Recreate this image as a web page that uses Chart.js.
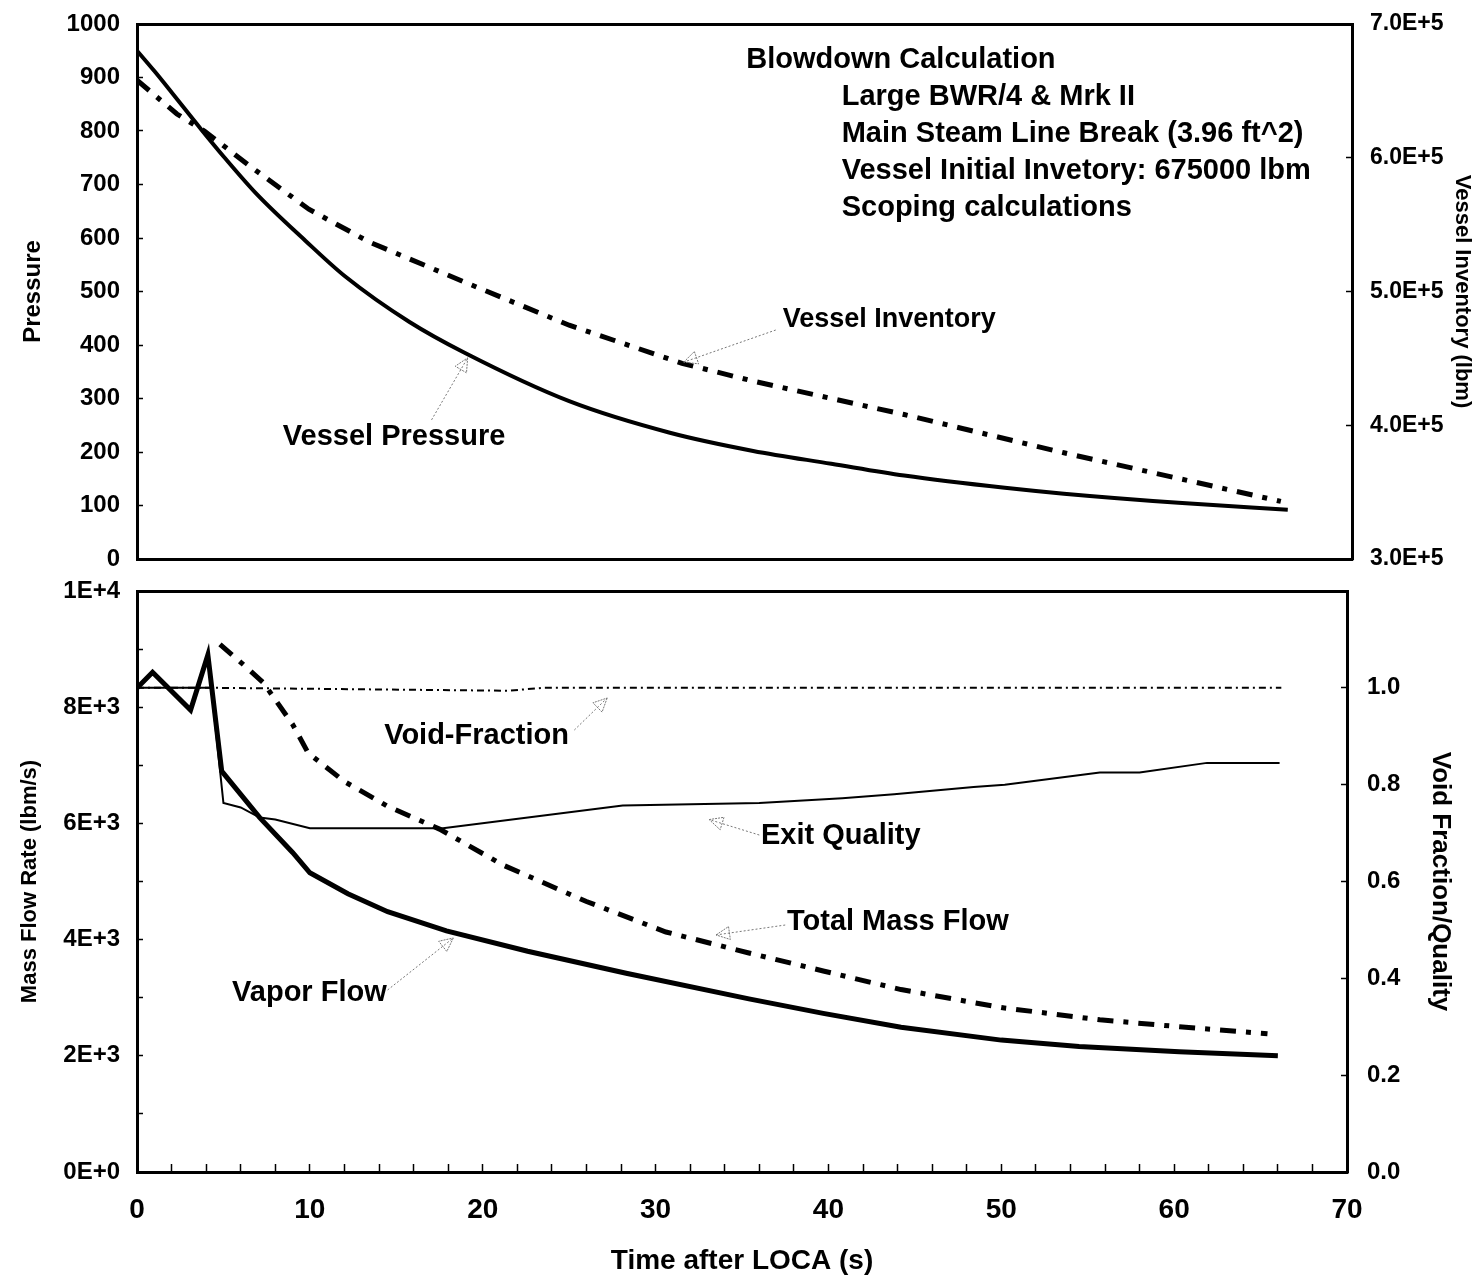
<!DOCTYPE html>
<html>
<head>
<meta charset="utf-8">
<title>Blowdown Calculation</title>
<script src="https://cdn.jsdelivr.net/npm/chart.js@4.4.1/dist/chart.umd.min.js"></script>
<style>
  html, body { margin: 0; padding: 0; background: #fff; }
  #wrap { position: relative; width: 1478px; height: 1280px; }
  canvas { position: absolute; left: 0; }
  #top-chart { top: 0; }
  #bottom-chart { top: 576px; }
</style>
</head>
<body>
<div id="wrap">
  <canvas id="top-chart" width="1478" height="576"></canvas>
  <canvas id="bottom-chart" width="1478" height="704"></canvas>
</div>
<script>
// ---------------------------------------------------------------------------------------
// Werte

// oben: Druck / Inventar
var time_pressure = [0, 1, 2, 3.7, 5, 6.9, 9.7, 12, 15.7, 18.9, 24.9, 30.7, 35.5, 40, 44.2, 50, 53.4, 60, 66.3];
var vessel_pressure = [950, 912, 872, 803, 752, 682, 595, 528, 443, 385, 295, 236, 202, 178, 156, 133, 122, 105, 92];

var time_inventory = [0, 2.3, 3.9, 6.5, 9.9, 13.4, 19.1, 24.9, 31.4, 35.5, 44.2, 53.4, 65.9];
var vessel_inventory = [658000, 632700, 619800, 593800, 561500, 536900, 505800, 474800, 446300, 433000, 408000, 379400, 343100];

// unten: Massenstrom / Void / Quality
var time_vapor = [0, 0.9, 3.1, 4.1, 4.9, 7.1, 9.0, 10.0, 12.2, 14.5, 17.9, 22.6, 28.3, 35.4, 39.7, 44.2, 50.0, 54.5, 60.3, 66.0];
var vapor_flow = [8330, 8600, 7950, 8900, 6900, 6100, 5500, 5150, 4790, 4480, 4150, 3800, 3420, 2980, 2730, 2490, 2270, 2160, 2070, 2000];

var time_total = [4.8, 6.2, 7.3, 9.0, 9.9, 12.0, 14.5, 17.5, 21.2, 26.0, 30.6, 35.4, 39.7, 44.2, 50.0, 55.7, 60.3, 65.4];
var total_flow = [9082, 8721, 8426, 7705, 7213, 6721, 6295, 5902, 5279, 4656, 4131, 3770, 3460, 3140, 2830, 2620, 2500, 2379];

var time_quality = [0, 4.3, 5.0, 6.0, 7.1, 8.0, 10.0, 17.7, 28.1, 36.0, 40.8, 43.8, 48.4, 50.2, 55.7, 58.0, 61.9, 66.1];
var exit_quality = [1.0, 1.0, 0.762, 0.753, 0.732, 0.728, 0.71, 0.71, 0.757, 0.762, 0.772, 0.78, 0.795, 0.80, 0.825, 0.825, 0.845, 0.845];

var time_void = [0, 4.5, 21.5, 23.5, 66.2];
var void_fraction = [1.0, 1.0, 0.994, 1.0, 1.0];

var info_text = ["Blowdown Calculation", "Large BWR/4 & Mrk II", "Main Steam Line Break (3.96 ft^2)",
  "Vessel Initial Invetory: 675000 lbm", "Scoping calculations"];

// ---------------------------------------------------------------------------------------
// Beschriftungen (Position in Achsenwerten)

var top_notes = [
  {text: "Vessel Inventory", x: 37.2, y: 447, tail: [36.8, 428], tip: [31.5, 368], size: 27},
  {text: "Vessel Pressure", x: 8.4, y: 228, tail: [16.97, 260], tip: [19.05, 376]}
];
var info_pos = [[35.1, 933], [40.6, 864], [40.6, 794], [40.6, 725], [40.6, 656]];

var bottom_notes = [
  {text: "Void-Fraction", x: 14.3, y: 7504, tail: [25.3, 7607], tip: [27.2, 8158]},
  {text: "Exit Quality", x: 36.1, y: 5783, tail: [36.0, 5800], tip: [33.1, 6066]},
  {text: "Total Mass Flow", x: 37.6, y: 4303, tail: [37.5, 4251], tip: [33.5, 4080]},
  {text: "Vapor Flow", x: 5.5, y: 3081, tail: [14.5, 3133], tip: [18.3, 4028]}
];

var FONT = '"Liberation Sans", Arial, sans-serif';

function pairs(xs, ys) {
  return xs.map(function(t, i){ return {x: t, y: ys[i]}; });
}

function fmtExp(v) {
  if (v === 0) return "0E+0";
  var e = Math.floor(Math.log10(v) + 1e-9);
  return Math.round(v / Math.pow(10, e)) + "E+" + e;
}

// feste Achsenbreite, ohne Label-Überstand im Layout
function fixWidth(w) {
  return function(axis){ axis.width = w; axis.paddingTop = 0; axis.paddingBottom = 0; };
}
function fixHeight(h) {
  return function(axis){ axis.height = h; axis.paddingLeft = 0; axis.paddingRight = 0; };
}

function drawNotes(chart, notes, yId) {
  var ctx = chart.ctx, xs = chart.scales.x, ys = chart.scales[yId];
  ctx.save();
  notes.forEach(function(n){
    var x1 = xs.getPixelForValue(n.tail[0]), y1 = ys.getPixelForValue(n.tail[1]);
    var x2 = xs.getPixelForValue(n.tip[0]), y2 = ys.getPixelForValue(n.tip[1]);
    ctx.strokeStyle = "#777";
    ctx.lineWidth = 1;
    ctx.setLineDash([2, 2]);
    ctx.beginPath(); ctx.moveTo(x1, y1); ctx.lineTo(x2, y2); ctx.stroke();
    var a = Math.atan2(y2 - y1, x2 - x1), L = 15, w = 0.45;
    ctx.setLineDash([2, 1]);
    ctx.beginPath();
    ctx.moveTo(x2, y2);
    ctx.lineTo(x2 - L * Math.cos(a - w), y2 - L * Math.sin(a - w));
    ctx.lineTo(x2 - L * Math.cos(a + w), y2 - L * Math.sin(a + w));
    ctx.closePath();
    ctx.stroke();
    ctx.setLineDash([]);
    ctx.fillStyle = "#000";
    ctx.font = "bold " + (n.size || 29) + "px " + FONT;
    ctx.textAlign = "left";
    ctx.textBaseline = "middle";
    ctx.fillText(n.text, xs.getPixelForValue(n.x), ys.getPixelForValue(n.y));
  });
  ctx.restore();
}

var hiddenTop = {
  position: "top", display: true, min: 0, max: 70,
  ticks: {display: false},
  grid: {drawOnChartArea: false, drawTicks: false},
  border: {color: "#000", width: 3},
  afterFit: fixHeight(0)
};

// ---------------------------------------------------------------------------------------
// oberes Diagramm

new Chart(document.getElementById("top-chart"), {
  type: "line",
  data: {
    datasets: [
      {
        label: "Vessel Pressure",
        data: pairs(time_pressure, vessel_pressure),
        yAxisID: "y",
        borderColor: "#000",
        borderWidth: 4,
        pointRadius: 0,
        cubicInterpolationMode: "monotone"
      },
      {
        label: "Vessel Inventory",
        data: pairs(time_inventory, vessel_inventory),
        yAxisID: "y2",
        borderColor: "#000",
        borderWidth: 5,
        borderDash: [16, 10, 5, 10],
        pointRadius: 0,
        tension: 0
      }
    ]
  },
  options: {
    responsive: false,
    animation: false,
    layout: {padding: {top: 24, left: 0, right: 0, bottom: 0}},
    scales: {
      x: {
        type: "linear", position: "bottom", min: 0, max: 70,
        ticks: {display: false},
        grid: {drawOnChartArea: false, drawTicks: false},
        border: {color: "#000", width: 3},
        afterFit: fixHeight(576 - 559)
      },
      xTop: hiddenTop,
      y: {
        position: "left", min: 0, max: 1000,
        ticks: {
          stepSize: 50, padding: 23, color: "#000",
          font: {family: FONT, size: 24, weight: "bold"},
          callback: function(v){ return v % 100 === 0 ? String(v) : ""; }
        },
        grid: {drawOnChartArea: false, drawTicks: true, tickLength: -6, tickColor: "#000", tickWidth: 1.5},
        border: {color: "#000", width: 3},
        title: {display: true, text: "Pressure", color: "#000",
          font: {family: FONT, size: 24, weight: "bold"}, padding: {top: 19, bottom: 0}},
        afterFit: fixWidth(137)
      },
      y2: {
        position: "right", min: 300000, max: 700000,
        ticks: {
          stepSize: 100000, padding: 24, color: "#000",
          font: {family: FONT, size: 23, weight: "bold"},
          callback: function(v){ return (v / 100000).toFixed(1) + "E+5"; }
        },
        grid: {drawOnChartArea: false, drawTicks: true, tickLength: -6, tickColor: "#000", tickWidth: 1.5},
        border: {color: "#000", width: 3},
        title: {display: true, text: "Vessel Inventory (lbm)", color: "#000",
          font: {family: FONT, size: 22, weight: "bold"}, padding: {top: 3, bottom: 0}},
        afterFit: fixWidth(1478 - 1352)
      }
    },
    plugins: {
      legend: {display: false},
      tooltip: {enabled: false}
    }
  },
  plugins: [{
    id: "topNotes",
    afterDraw: function(chart){
      drawNotes(chart, top_notes, "y");
      var ctx = chart.ctx, xs = chart.scales.x, ys = chart.scales.y;
      ctx.save();
      ctx.fillStyle = "#000";
      ctx.font = "bold 29px " + FONT;
      ctx.textAlign = "left";
      ctx.textBaseline = "middle";
      info_text.forEach(function(line, i){
        ctx.fillText(line, xs.getPixelForValue(info_pos[i][0]), ys.getPixelForValue(info_pos[i][1]));
      });
      ctx.restore();
    }
  }]
});

// ---------------------------------------------------------------------------------------
// unteres Diagramm

new Chart(document.getElementById("bottom-chart"), {
  type: "line",
  data: {
    datasets: [
      {
        label: "Vapor Flow",
        data: pairs(time_vapor, vapor_flow),
        yAxisID: "y",
        borderColor: "#000",
        borderWidth: 5,
        pointRadius: 0,
        tension: 0
      },
      {
        label: "Total Mass Flow",
        data: pairs(time_total, total_flow),
        yAxisID: "y",
        borderColor: "#000",
        borderWidth: 5,
        borderDash: [16, 10, 5, 10],
        pointRadius: 0,
        tension: 0
      },
      {
        label: "Exit Quality",
        data: pairs(time_quality, exit_quality),
        yAxisID: "y2",
        borderColor: "#000",
        borderWidth: 2,
        pointRadius: 0,
        tension: 0
      },
      {
        label: "Void-Fraction",
        data: pairs(time_void, void_fraction),
        yAxisID: "y2",
        borderColor: "#000",
        borderWidth: 2,
        borderDash: [7, 4, 2, 4],
        pointRadius: 0,
        tension: 0
      }
    ]
  },
  options: {
    responsive: false,
    animation: false,
    layout: {padding: {top: 15, left: 0, right: 0, bottom: 0}},
    scales: {
      x: {
        type: "linear", position: "bottom", min: 0, max: 70,
        ticks: {
          stepSize: 2, autoSkip: false, maxRotation: 0, padding: 29, color: "#000",
          font: {family: FONT, size: 28, weight: "bold"},
          callback: function(v){ return v % 10 === 0 ? String(v) : ""; }
        },
        grid: {drawOnChartArea: false, drawTicks: true, tickLength: -8, tickColor: "#000", tickWidth: 1.5},
        border: {color: "#000", width: 3},
        title: {display: true, text: "Time after LOCA (s)", color: "#000",
          font: {family: FONT, size: 28, weight: "bold"}, padding: {top: 0, bottom: 2}},
        afterFit: fixHeight(1280 - 1172)
      },
      xTop: hiddenTop,
      y: {
        position: "left", min: 0, max: 10000,
        ticks: {
          stepSize: 1000, padding: 23, color: "#000",
          font: {family: FONT, size: 24, weight: "bold"},
          callback: function(v){ return v % 2000 === 0 ? fmtExp(v) : ""; }
        },
        grid: {drawOnChartArea: false, drawTicks: true, tickLength: -6, tickColor: "#000", tickWidth: 1.5},
        border: {color: "#000", width: 3},
        title: {display: true, text: "Mass Flow Rate (lbm/s)", color: "#000",
          font: {family: FONT, size: 22, weight: "bold"}, padding: {top: 17, bottom: 0}},
        afterFit: fixWidth(137)
      },
      y2: {
        position: "right", min: 0, max: 1.2,
        ticks: {
          stepSize: 0.2, padding: 26, color: "#000",
          font: {family: FONT, size: 24, weight: "bold"},
          callback: function(v){ return v > 1.05 ? "" : (Math.round(v * 10) / 10).toFixed(1); }
        },
        grid: {drawOnChartArea: false, drawTicks: true, tickLength: -6, tickColor: "#000", tickWidth: 1.5},
        border: {color: "#000", width: 3},
        title: {display: true, text: "Void Fraction/Quality", color: "#000",
          font: {family: FONT, size: 26, weight: "bold"}, padding: {top: 22, bottom: 0}},
        afterFit: fixWidth(1478 - 1347)
      }
    },
    plugins: {
      legend: {display: false},
      tooltip: {enabled: false}
    }
  },
  plugins: [{
    id: "bottomNotes",
    afterDraw: function(chart){ drawNotes(chart, bottom_notes, "y"); }
  }]
});
</script>
</body>
</html>
